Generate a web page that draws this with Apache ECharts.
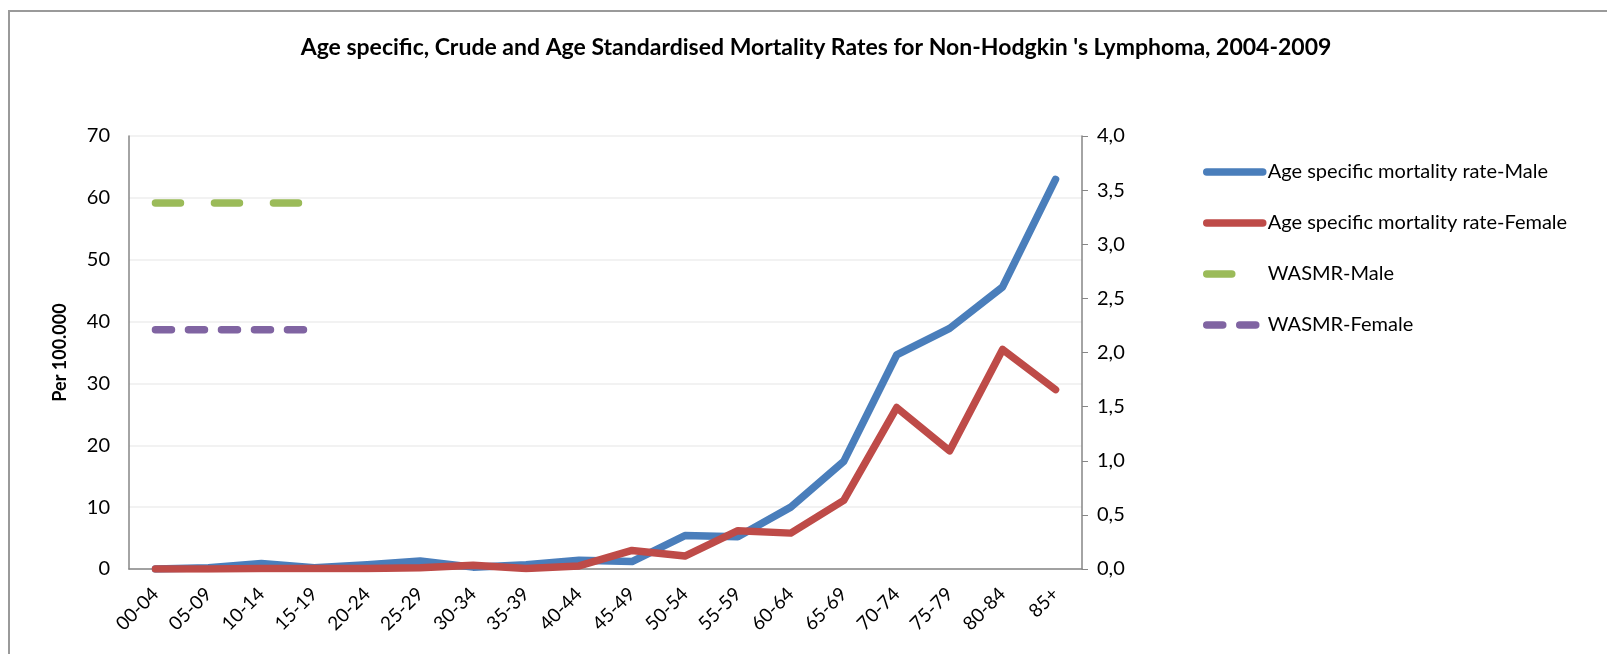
<!DOCTYPE html>
<html>
<head>
<meta charset="utf-8">
<script src="https://cdn.jsdelivr.net/npm/echarts@6/dist/echarts.min.js"></script>
<style>
	* { margin: 0; padding: 0; }
	body { background: #fff; }
</style>
</head>
<body>
<!-- container for the chart -->
<div id="main" style="width: 1607px; height: 654px;"></div>
<script>
	var ageGroups = ['00-04', '05-09', '10-14', '15-19', '20-24', '25-29', '30-34', '35-39', '40-44',
		'45-49', '50-54', '55-59', '60-64', '65-69', '70-74', '75-79', '80-84', '85+'];
	var maleRate = [0, 0.2, 0.9, 0.2, 0.7, 1.3, 0.3, 0.7, 1.4, 1.2, 5.4, 5.2, 10.0, 17.4, 34.6, 38.9, 45.6, 63.0];
	var femaleRate = [0, 0, 0.1, 0.1, 0.1, 0.2, 0.6, 0.1, 0.5, 3.0, 2.1, 6.2, 5.8, 11.1, 26.1, 19.1, 35.5, 29.0];
	// WASMR, read against the right-hand axis
	var wasmrMale = [3.38, 3.38, 3.38, 3.38];
	var wasmrFemale = [2.21, 2.21, 2.21, 2.21];
	var leftTicks = [0, 70, 10];
	var rightTicks = [0, 4, 0.5];

	var font = 'Lato';
	var chart = echarts.init(document.getElementById('main'));
	chart.setOption({
		animation: false,
		textStyle: { fontFamily: font },
		title: {
			text: "Age specific, Crude and Age Standardised Mortality Rates for Non-Hodgkin 's Lymphoma, 2004-2009",
			left: 811,
			top: 31,
			textAlign: 'center',
			textStyle: { fontFamily: font, fontSize: 23, fontWeight: 'bold', color: '#000' }
		},
		graphic: [{
			type: 'rect',
			shape: { x: 9, y: 11, width: 1700, height: 800 },
			style: { fill: 'none', stroke: '#9a9a9a', lineWidth: 2 },
			silent: true
		}],
		legend: {
			orient: 'vertical',
			left: 1198,
			top: 157,
			itemWidth: 56,
			itemHeight: 14,
			itemGap: 31,
			data: ['Age specific mortality rate-Male', 'Age specific mortality rate-Female', 'WASMR-Male', 'WASMR-Female'],
			lineStyle: { width: 'inherit', cap: 'round' },
			itemStyle: { opacity: 0 },
			textStyle: { fontFamily: font, fontSize: 20, lineHeight: 20, color: '#000' }
		},
		grid: { left: 129, right: 525, top: 136, bottom: 85 },
		xAxis: {
			type: 'category',
			data: ageGroups,
			boundaryGap: true,
			axisLine: { lineStyle: { color: '#868686', width: 1.5 } },
			axisTick: { show: false },
			axisLabel: { rotate: 45, fontSize: 19, color: '#000', margin: 22, interval: 0 }
		},
		yAxis: [{
			type: 'value',
			min: leftTicks[0], max: leftTicks[1], interval: leftTicks[2],
			name: 'Per 100.000',
			nameLocation: 'middle',
			nameRotate: 90,
			nameGap: 60,
			nameTextStyle: { fontFamily: font, fontSize: 18, fontWeight: 'bold', color: '#000' },
			axisLine: { show: true, lineStyle: { color: '#868686', width: 1.5 } },
			axisTick: { show: false },
			axisLabel: { fontSize: 20, color: '#000', margin: 19 },
			splitLine: { lineStyle: { color: '#eeeeee', width: 1.5 } }
		}, {
			type: 'value',
			min: rightTicks[0], max: rightTicks[1], interval: rightTicks[2],
			position: 'right',
			axisLine: { show: true, lineStyle: { color: '#868686', width: 1.5 } },
			axisTick: { show: true, inside: false, length: 6, lineStyle: { color: '#868686' } },
			axisLabel: {
				fontSize: 20, color: '#000', margin: 15,
				formatter: function (v) { return v.toFixed(1).replace('.', ','); }
			},
			splitLine: { show: false }
		}],
		series: [{
			name: 'Age specific mortality rate-Male',
			type: 'line',
			yAxisIndex: 0,
			data: maleRate,
			symbol: 'none',
			color: '#4a7ebb',
			lineStyle: { width: 7.5, color: '#4a7ebb', cap: 'round', join: 'round' }
		}, {
			name: 'Age specific mortality rate-Female',
			type: 'line',
			yAxisIndex: 0,
			data: femaleRate,
			symbol: 'none',
			color: '#be4b48',
			lineStyle: { width: 7.5, color: '#be4b48', cap: 'round', join: 'round' }
		}, {
			name: 'WASMR-Male',
			type: 'line',
			yAxisIndex: 1,
			data: wasmrMale,
			symbol: 'none',
			color: '#9bbb59',
			lineStyle: { width: 7.5, color: '#9bbb59', type: [25, 34], cap: 'round' }
		}, {
			name: 'WASMR-Female',
			type: 'line',
			yAxisIndex: 1,
			data: wasmrFemale,
			symbol: 'none',
			color: '#8064a2',
			lineStyle: { width: 7.5, color: '#8064a2', type: [16, 17], cap: 'round' }
		}]
	});
</script>
</body>
</html>
